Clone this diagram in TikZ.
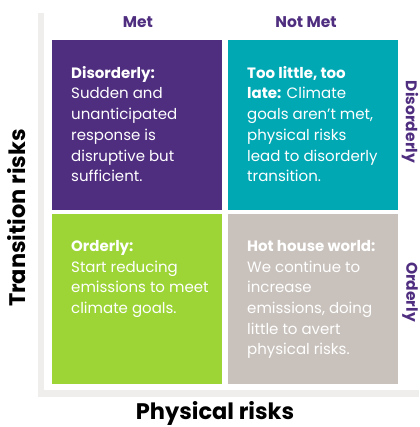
\documentclass[tikz,border=0pt]{standalone}
\usepackage{fontspec}
\setmainfont{Poppins}
\usepackage{xcolor}
\usetikzlibrary{positioning}

\definecolor{grapec}{HTML}{4F2D7F}
\definecolor{tealc}{HTML}{00A8B4}
\definecolor{limec}{HTML}{9CD535}
\definecolor{stonec}{HTML}{C9C2BC}
\definecolor{axisc}{HTML}{EFEEEC}

\tikzset{
  cell/.style={minimum width=170pt, minimum height=170pt, inner sep=0pt, anchor=north west},
  celltext/.style={anchor=north west, inner sep=0pt, align=left, text=white,
    font=\fontsize{15}{20.7}\selectfont},
  colhead/.style={text=grapec, font=\fontsize{15.5}{17}\selectfont\bfseries},
  axishead/.style={font=\fontsize{22.5}{24}\selectfont\bfseries}
}

\begin{document}
\begin{tikzpicture}[x=1pt,y=-1pt]
\useasboundingbox (0,0) rectangle (419,427);
  % gray axis bars
  \fill[axisc] (38,13) rectangle (44,397);
  \fill[axisc] (38,390) rectangle (419,397);
  % the four cells
  \node[cell, fill=grapec] (disorderly) at (52,40) {};
  \node[cell, fill=tealc] (toolate) at (228,40) {};
  \node[cell, fill=limec] (orderly) at (52,214) {};
  \node[cell, fill=stonec] (hothouse) at (228,214) {};
      \node[celltext] (disorderlytxt) at ([shift={(19,26)}]disorderly.north west)
        {\textbf{Disorderly:}\\Sudden and\\unanticipated\\response is\\disruptive but\\sufficient.};
      \node[celltext] (toolatetxt) at ([shift={(19,26)}]toolate.north west)
        {\textbf{Too little, too}\\\textbf{late:} Climate\\goals aren’t met,\\physical risks\\lead to disorderly\\transition.};
      \node[celltext] (orderlytxt) at ([shift={(19,26)}]orderly.north west)
        {\textbf{Orderly:}\\Start reducing\\emissions to meet\\climate goals.};
      \node[celltext] (hothousetxt) at ([shift={(19,26)}]hothouse.north west)
        {\textbf{Hot house world:}\\We continue to\\increase\\emissions, doing\\little to avert\\physical risks.};
  % labels round the grid
  \node[colhead] (met) at (138,22) {Met};
  \node[colhead] (notmet) at (306,22) {Not Met};
  \node[colhead, rotate=-90] (disorderlyside) at (410,122) {Disorderly};
  \node[colhead, rotate=-90] (orderlyside) at (410,292) {Orderly};
  \node[axishead, rotate=90] (transition) at (17,218) {Transition risks};
  \node[axishead] (physical) at (215,413) {Physical risks};
\end{tikzpicture}
\end{document}
